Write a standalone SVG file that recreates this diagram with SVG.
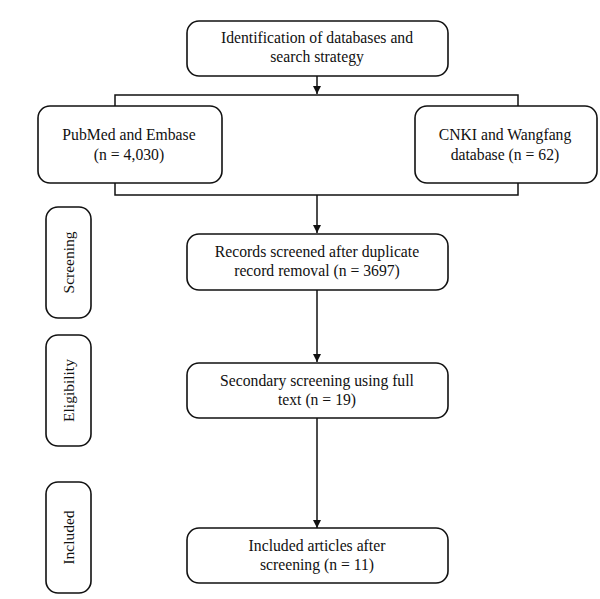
<svg xmlns="http://www.w3.org/2000/svg" width="600" height="599" viewBox="0 0 600 599">
<defs>
<style>
.box{fill:#fff;stroke:#111;stroke-width:1.6}
.t{font-family:"Liberation Serif","Times New Roman",serif;font-size:15.7px;fill:#111;text-anchor:middle}
.s{font-size:15.5px}
.ln{fill:none;stroke:#111;stroke-width:1.5}
</style>
<marker id="ah" viewBox="0 0 10 10" refX="10" refY="5" markerWidth="8" markerHeight="8" markerUnits="userSpaceOnUse" orient="auto">
<path d="M0,0 L10,5 L0,10 z" fill="#111"/>
</marker>
</defs>
<rect width="600" height="599" fill="#fff"/>
<g id="connectors">
<line class="ln" x1="317" y1="76" x2="317" y2="94" marker-end="url(#ah)"/>
<polyline class="ln" points="115,106 115,95 518,95 518,106"/>
<polyline class="ln" points="115,183 115,195 518,195 518,183"/>
<line class="ln" x1="317" y1="195" x2="317" y2="233" marker-end="url(#ah)"/>
<line class="ln" x1="317" y1="290" x2="317" y2="362" marker-end="url(#ah)"/>
<line class="ln" x1="317" y1="418" x2="317" y2="528" marker-end="url(#ah)"/>
</g>
<g id="n-identification">
<rect class="box" x="187" y="21" width="261" height="55" rx="12"/>
<text class="t" x="317" y="43">Identification of databases and</text>
<text class="t" x="317" y="62">search strategy</text>
</g>
<g id="n-pubmed">
<rect class="box" x="38" y="106" width="184" height="77" rx="12"/>
<text class="t" x="129" y="140">PubMed and Embase</text>
<text class="t" x="129" y="160">(n = 4,030)</text>
</g>
<g id="n-cnki">
<rect class="box" x="415" y="106" width="182" height="77" rx="12"/>
<text class="t" x="505" y="140">CNKI and Wangfang</text>
<text class="t" x="505" y="160">database (n = 62)</text>
</g>
<g id="n-records">
<rect class="box" x="187" y="234" width="261" height="56" rx="12"/>
<text class="t" x="317" y="257">Records screened after duplicate</text>
<text class="t" x="317" y="276">record removal (n = 3697)</text>
</g>
<g id="n-secondary">
<rect class="box" x="187" y="363" width="261" height="55" rx="12"/>
<text class="t" x="317" y="386">Secondary screening using full</text>
<text class="t" x="317" y="405">text (n = 19)</text>
</g>
<g id="n-included">
<rect class="box" x="187" y="528" width="261" height="55" rx="12"/>
<text class="t" x="317" y="551">Included articles after</text>
<text class="t" x="317" y="570">screening (n = 11)</text>
</g>
<g id="s-screening">
<rect class="box" x="46" y="207" width="45" height="111" rx="12"/>
<text class="t s" transform="translate(73.5,262.5) rotate(-90)">Screening</text>
</g>
<g id="s-eligibility">
<rect class="box" x="46" y="335" width="45" height="111" rx="12"/>
<text class="t s" transform="translate(73.5,390.5) rotate(-90)">Eligibility</text>
</g>
<g id="s-included">
<rect class="box" x="46" y="482" width="45" height="111" rx="12"/>
<text class="t s" transform="translate(73.5,537.5) rotate(-90)">Included</text>
</g>
</svg>
